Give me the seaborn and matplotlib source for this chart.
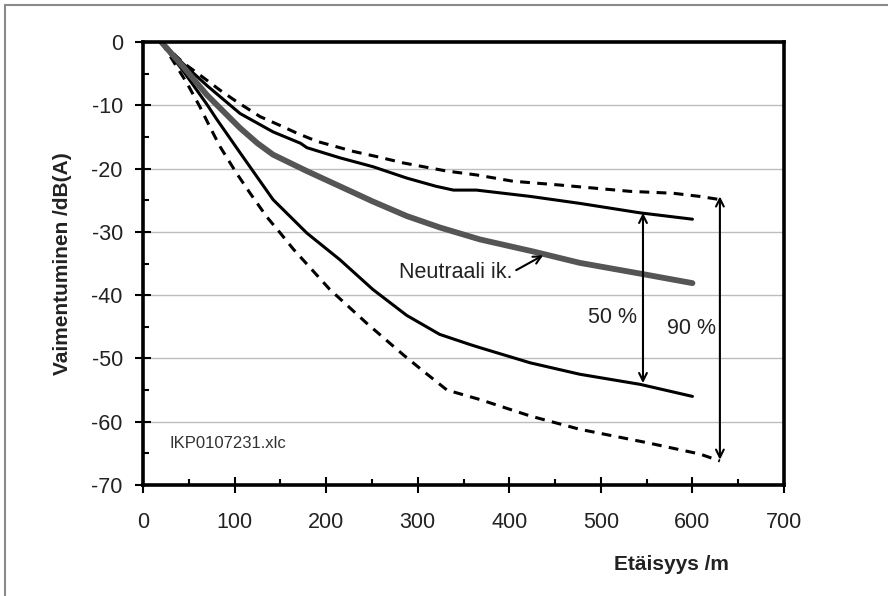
import matplotlib
matplotlib.use("Agg")
import matplotlib.pyplot as plt
import seaborn as sns
from matplotlib.ticker import MultipleLocator
from matplotlib.lines import Line2D

# ─── Data (distance m, attenuation dB(A)) ───────────────────────────────────
upper90_x = [20, 44, 62, 84, 102, 128, 153, 168, 190, 230, 255, 284, 306, 332, 364, 404, 455, 532, 579, 608, 630]
upper90_y = [0, -3.3, -5.2, -7.6, -9.4, -11.8, -13.4, -14.4, -15.7, -17.3, -18.1, -19.1, -19.7, -20.4, -21.0, -22.0, -22.6, -23.6, -23.9, -24.4, -24.9]

upper50_x = [20, 45, 70, 106, 142, 172, 179, 215, 251, 288, 320, 339, 364, 423, 477, 543, 600]
upper50_y = [0, -3.6, -6.9, -11.3, -14.2, -16.0, -16.7, -18.3, -19.7, -21.5, -22.8, -23.4, -23.4, -24.4, -25.5, -27.0, -28.0]

neutral_x = [20, 45, 70, 106, 125, 142, 179, 215, 251, 288, 324, 368, 426, 477, 543, 600]
neutral_y = [0, -4.1, -8.4, -13.6, -16.0, -17.8, -20.4, -22.8, -25.2, -27.5, -29.3, -31.2, -33.1, -34.9, -36.6, -38.1]

lower50_x = [20, 45, 70, 80, 106, 142, 179, 215, 251, 288, 324, 357, 368, 423, 477, 543, 600]
lower50_y = [0, -4.8, -9.9, -12.1, -17.5, -24.9, -30.2, -34.4, -39.1, -43.2, -46.2, -47.8, -48.3, -50.7, -52.5, -54.1, -56.0]

lower90_x = [20, 48, 62, 73, 84, 102, 117, 135, 150, 164, 204, 244, 284, 306, 332, 368, 423, 477, 550, 608, 630]
lower90_y = [0, -6.5, -10.2, -13.4, -16.5, -20.7, -23.9, -27.6, -30.2, -32.7, -39.1, -44.4, -49.4, -52.0, -55.0, -56.5, -59.1, -61.2, -63.3, -65.1, -66.2]

# spread arrows: (x, top, bottom)
band50 = (546, -27.0, -53.9)
band90 = (630, -24.4, -66.0)

sns.set_style("white")
plt.rcParams['font.family'] = ['Liberation Sans', 'DejaVu Sans']
plt.rcParams['axes.unicode_minus'] = False

fig = plt.figure(figsize=(8.88, 5.96), dpi=100)
ax = fig.add_axes([143 / 888, 111 / 596, 641 / 888, 443 / 596])

dash = (0, (3.2, 2.4))
sns.lineplot(x=upper90_x, y=upper90_y, ax=ax, color='black', linewidth=2.2,
             linestyle=dash, sort=False, estimator=None)
sns.lineplot(x=lower90_x, y=lower90_y, ax=ax, color='black', linewidth=2.2,
             linestyle=dash, sort=False, estimator=None)
sns.lineplot(x=upper50_x, y=upper50_y, ax=ax, color='black', linewidth=2.2,
             sort=False, estimator=None)
sns.lineplot(x=lower50_x, y=lower50_y, ax=ax, color='black', linewidth=2.2,
             sort=False, estimator=None)
sns.lineplot(x=neutral_x, y=neutral_y, ax=ax, color='#555555', linewidth=4.2,
             sort=False, estimator=None, solid_capstyle='round')

# ─── Axes styling ───────────────────────────────────────────────────────────
ax.set_xlim(0, 700)
ax.set_ylim(-70, 0)
ax.xaxis.set_major_locator(MultipleLocator(100))
ax.xaxis.set_minor_locator(MultipleLocator(50))
ax.yaxis.set_major_locator(MultipleLocator(10))
ax.yaxis.set_minor_locator(MultipleLocator(5))
ax.tick_params(which='major', direction='inout', length=11, width=1.5, colors='black',
               labelsize=15.5, labelcolor='#222222')
ax.tick_params(axis='x', which='major', pad=14)
ax.tick_params(axis='y', which='major', pad=9)
ax.tick_params(which='minor', direction='in', length=4.5, width=1.5, colors='black')
ax.tick_params(left=True, bottom=True, which='both')

for sp in ax.spines.values():
    sp.set_linewidth(2.6)
    sp.set_color('black')
ax.grid(axis='y', which='major', color='#bdbdbd', linewidth=1.0)
ax.set_axisbelow(True)

ax.set_xlabel('Etäisyys /m', fontsize=15, fontweight='bold', color='#222222')
ax.set_ylabel('Vaimentuminen /dB(A)', fontsize=15, fontweight='bold', color='#222222')
ax.xaxis.set_label_coords(0.825, -0.158)
ax.yaxis.set_label_coords(-0.111, 0.5)

# ─── Annotations ────────────────────────────────────────────────────────────
arrow = dict(arrowstyle='<->', color='black', lw=1.5, shrinkA=0, shrinkB=0,
             mutation_scale=14)
ax.annotate('', xy=(band50[0], band50[1]), xytext=(band50[0], band50[2]), arrowprops=arrow)
ax.annotate('', xy=(band90[0], band90[1]), xytext=(band90[0], band90[2]), arrowprops=arrow)
ax.text(513, -43.6, '50 %', fontsize=15.5, ha='center', va='center', color='#222222')
ax.text(599, -45.2, '90 %', fontsize=15.5, ha='center', va='center', color='#222222')
ax.annotate('Neutraali ik.', xy=(437, -33.7), xytext=(342, -36.5), fontsize=15.5,
            ha='center', va='center', color='#222222',
            arrowprops=dict(arrowstyle='->', color='black', lw=1.5, shrinkA=0,
                            shrinkB=0, mutation_scale=14,
                            relpos=(1.0, 0.55)))
ax.text(29, -63.5, 'IKP0107231.xlc', fontsize=12, ha='left', va='center', color='#333333')

# thin frame remnants at top and left of the figure
fig.add_artist(Line2D([5 / 888, 1], [1 - 5 / 596, 1 - 5 / 596], color='#8a8a8a', lw=1.5,
                      transform=fig.transFigure))
fig.add_artist(Line2D([5 / 888, 5 / 888], [0, 1 - 5 / 596], color='#8a8a8a', lw=1.5,
                      transform=fig.transFigure))

fig.savefig('out.png', dpi=100, facecolor='white')
